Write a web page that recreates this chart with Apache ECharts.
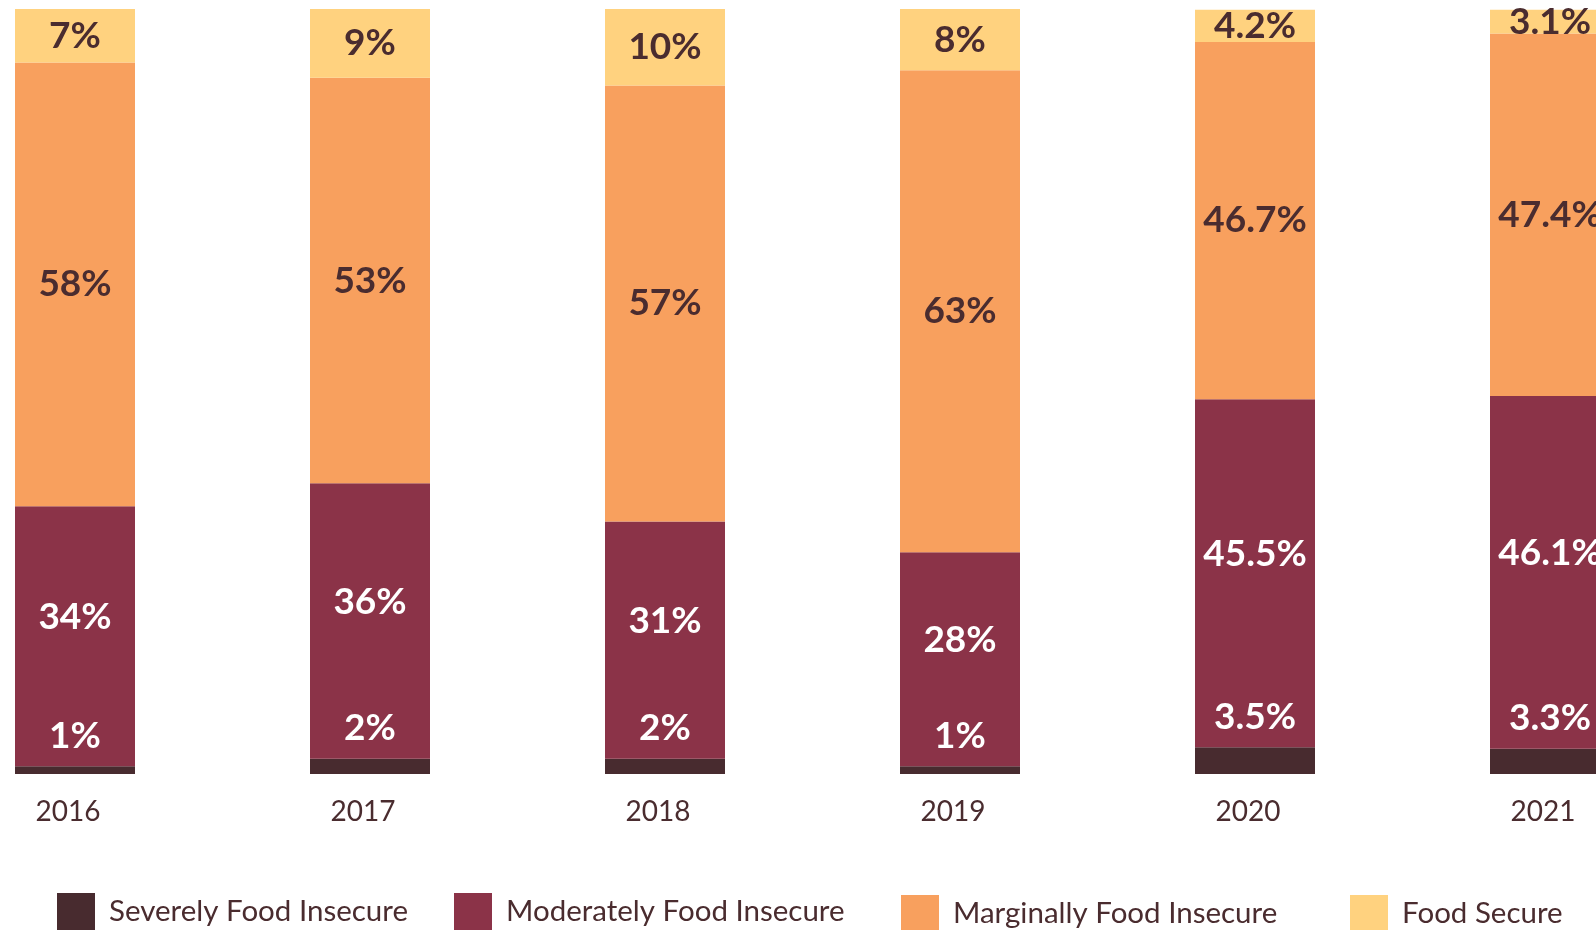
<!DOCTYPE html>
<html>
<head>
<meta charset="utf-8">
<script src="https://cdn.jsdelivr.net/npm/echarts@6/dist/echarts.min.js"></script>
<style>
html,body{margin:0;padding:0;background:#fff;}
#chart{width:1596px;height:930px;}
</style>
</head>
<body>
<div id="chart"></div>
<script>
const years = ['2016','2017','2018','2019','2020','2021'];
const seriesNames = ['Severely Food Insecure','Moderately Food Insecure','Marginally Food Insecure','Food Secure'];
const severely = [1, 2, 2, 1, 3.5, 3.3];
const moderately = [34, 36, 31, 28, 45.5, 46.1];
const marginally = [58, 53, 57, 63, 46.7, 47.4];
const foodSecure = [7, 9, 10, 8, 4.2, 3.1];

const colors = ['#482b2f', '#8b3348', '#f8a05e', '#ffd27f'];
const dark = '#4a2c2f';
const FONT = 'Lato';

function fmt(p){ return p.value + '%'; }

const labelBase = {show:true, formatter: fmt, fontFamily: FONT, fontWeight:'bold', fontSize:37};

const chart = echarts.init(document.getElementById('chart'), null, {renderer:'canvas'});
const legendPos = [[57, 893], [454, 893], [901, 895], [1350, 895]];
chart.setOption({
  animation:false,
  grid:{left:-72.5, width:1770, top:9, height:765, containLabel:false, outerBoundsMode:'none'},
  xAxis:{type:'category', data: years,
    axisLine:{show:false}, axisTick:{show:false},
    axisLabel:{color:dark, fontFamily:FONT, fontSize:28, margin:24, padding:[0,14,0,0]}},
  yAxis:{type:'value', min:0, max:100, show:false, splitLine:{show:false}},
  legend: seriesNames.map((n,i)=>({
    data:[n], left:legendPos[i][0], top:legendPos[i][1], padding:0,
    itemWidth:38, itemHeight:37, icon:'rect',
    textStyle:{color:dark, fontFamily:FONT, fontSize:29.5, padding:[0,0,0,9]}
  })),
  series:[
    {name:seriesNames[0], type:'bar', stack:'a', barWidth:120, data:severely,
      itemStyle:{color:colors[0]},
      label:Object.assign({}, labelBase, {position:'top', distance:12, color:'#ffffff'})},
    {name:seriesNames[1], type:'bar', stack:'a', barWidth:120, data:moderately,
      itemStyle:{color:colors[1]},
      label:Object.assign({}, labelBase, {position:'inside', offset:[0,-19], color:'#ffffff'})},
    {name:seriesNames[2], type:'bar', stack:'a', barWidth:120, data:marginally,
      itemStyle:{color:colors[2]},
      label:Object.assign({}, labelBase, {position:'inside', color:dark})},
    {name:seriesNames[3], type:'bar', stack:'a', barWidth:120, data:foodSecure,
      itemStyle:{color:colors[3]},
      label:Object.assign({}, labelBase, {position:'inside', color:dark})}
  ]
});
</script>
</body>
</html>
